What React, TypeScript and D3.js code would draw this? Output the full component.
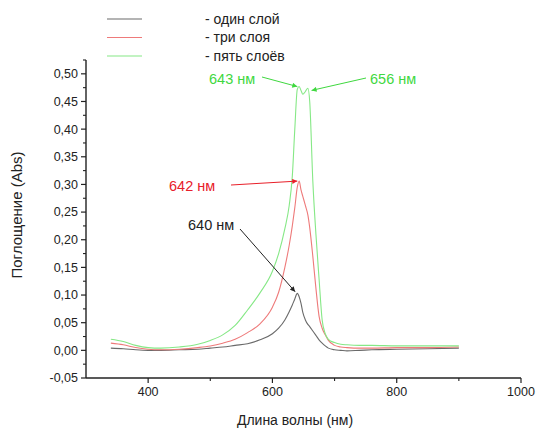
import React from "react";
import * as d3 from "d3";

const wavelengths = [340, 360, 380, 400, 420, 450, 480, 500, 520, 540, 560, 580, 600, 610, 620, 627, 632, 636, 640, 643, 646, 649, 653, 657, 660, 665, 670, 675, 680, 685, 690, 700, 710, 720, 740, 760, 800, 850, 900];

const oneLayer = [0.004, 0.003, 0.001, 0.0, 0.0, 0.001, 0.002, 0.004, 0.006, 0.009, 0.012, 0.019, 0.03, 0.04, 0.055, 0.07, 0.082, 0.093, 0.103, 0.097, 0.085, 0.068, 0.055, 0.047, 0.043, 0.035, 0.027, 0.019, 0.013, 0.008, 0.004, 0.001, 0.0, -0.001, 0.0, 0.001, 0.002, 0.003, 0.004];

const threeLayers = [0.013, 0.01, 0.005, 0.002, 0.001, 0.002, 0.005, 0.008, 0.013, 0.02, 0.032, 0.048, 0.078, 0.105, 0.15, 0.19, 0.225, 0.258, 0.295, 0.306, 0.29, 0.278, 0.262, 0.245, 0.222, 0.17, 0.112, 0.062, 0.04, 0.028, 0.018, 0.009, 0.006, 0.005, 0.004, 0.004, 0.005, 0.005, 0.006];

const fiveLayers = [0.02, 0.016, 0.009, 0.005, 0.004, 0.006, 0.011, 0.018, 0.028, 0.045, 0.073, 0.104, 0.143, 0.175, 0.22, 0.262, 0.315, 0.4, 0.472, 0.477, 0.47, 0.463, 0.468, 0.474, 0.45, 0.306, 0.21, 0.13, 0.055, 0.03, 0.02, 0.014, 0.011, 0.01, 0.009, 0.009, 0.008, 0.008, 0.008];

const seriesNames = ["- один слой", "- три слоя", "- пять слоёв"];
const seriesColors = ["#6a6a6a", "#ee7a7a", "#86e886"];

const xTicks = [400, 600, 800, 1000];
const xMinorTicks = [500, 700, 900];
const yTicks = [-0.05, 0, 0.05, 0.1, 0.15, 0.2, 0.25, 0.3, 0.35, 0.4, 0.45, 0.5];
const yMinorTicks = [-0.025, 0.025, 0.075, 0.125, 0.175, 0.225, 0.275, 0.325, 0.375, 0.425, 0.475, 0.525];

// annotations: label, tip (wavelength, value), text position and line start in px, color
const annotations = [
  { label: "643 нм", tipX: 640, tipY: 0.477, tx: 209, ty: 84, lx: 262, ly: 77, color: "#3fd83f" },
  { label: "656 нм", tipX: 663, tipY: 0.47, tx: 370, ty: 84, lx: 366, ly: 78, color: "#3fd83f" },
  { label: "642 нм", tipX: 640, tipY: 0.306, tx: 169, ty: 191, lx: 231, ly: 185, color: "#e8202a" },
  { label: "640 нм", tipX: 636.5, tipY: 0.106, tx: 188, ty: 230, lx: 240, ly: 229, color: "#222222" },
];

const W = 537;
const H = 430;
const font = "'Liberation Sans', Arial, sans-serif";

export default function App() {
  const x = d3.scaleLinear().domain([300, 1000]).range([86, 521]);
  const y = d3.scaleLinear().domain([-0.05, 0.525]).range([378, 60]);
  const x0 = x(300);
  const yBase = y(-0.05);

  const line = d3
    .line<number>()
    .x((_, i) => x(wavelengths[i]))
    .y((v) => y(v))
    .curve(d3.curveMonotoneX);

  const series = [oneLayer, threeLayers, fiveLayers];
  const fmt = (v: number) => (Math.abs(v) < 1e-9 ? "0,00" : d3.format(".2f")(v).replace(".", ",").replace("−", "-"));

  return (
    <svg width={W} height={H} style={{ position: "absolute", left: 0, top: 0, background: "#fff" }} fontFamily={font}>
      <defs>
        {annotations.map((a, i) => (
          <marker key={i} id={`arr${i}`} viewBox="0 0 10 10" refX="10" refY="5" markerWidth="7" markerHeight="5" orient="auto" markerUnits="userSpaceOnUse">
            <path d="M0,0 L10,5 L0,10 z" fill={a.color} />
          </marker>
        ))}
      </defs>

      {/* series */}
      {series.map((s, i) => (
        <path key={i} d={line(s) || ""} fill="none" stroke={seriesColors[i]} strokeWidth={1.1} />
      ))}

      {/* axes */}
      <line x1={x0} x2={x0} y1={y(0.525)} y2={yBase} stroke="#222" strokeWidth={1.4} />
      <line x1={x0} x2={x(1000)} y1={yBase} y2={yBase} stroke="#222" strokeWidth={1.4} />
      {yTicks.map((t) => (
        <g key={t}>
          <line x1={x0 - 5} x2={x0} y1={y(t)} y2={y(t)} stroke="#222" strokeWidth={1.2} />
          <text x={x0 - 8} y={y(t)} dy="0.35em" textAnchor="end" fontSize={12.5} fill="#222">
            {fmt(t)}
          </text>
        </g>
      ))}
      {yMinorTicks.map((t) => (
        <line key={t} x1={x0 - 3} x2={x0} y1={y(t)} y2={y(t)} stroke="#222" strokeWidth={1.1} />
      ))}
      {xTicks.map((t) => (
        <g key={t}>
          <line x1={x(t)} x2={x(t)} y1={yBase} y2={yBase + 5} stroke="#222" strokeWidth={1.2} />
          <text x={x(t)} y={yBase + 18} textAnchor="middle" fontSize={12.5} fill="#222">
            {t}
          </text>
        </g>
      ))}
      {xMinorTicks.map((t) => (
        <line key={t} x1={x(t)} x2={x(t)} y1={yBase} y2={yBase + 3} stroke="#222" strokeWidth={1.1} />
      ))}

      {/* axis titles */}
      <text x={295} y={425} textAnchor="middle" fontSize={14} fill="#222">
        Длина волны (нм)
      </text>
      <text transform={`translate(22,215) rotate(-90)`} textAnchor="middle" fontSize={15} fill="#222">
        Поглощение (Abs)
      </text>

      {/* legend */}
      {seriesNames.map((n, i) => (
        <g key={n}>
          <line x1={107} x2={142} y1={19 + i * 18.5} y2={19 + i * 18.5} stroke={seriesColors[i]} strokeWidth={1.1} />
          <text x={205} y={19 + i * 18.5} dy="0.35em" fontSize={14} fill="#222">
            {n}
          </text>
        </g>
      ))}

      {/* annotations */}
      {annotations.map((a, i) => (
        <g key={a.label}>
          <line x1={a.lx} y1={a.ly} x2={x(a.tipX)} y2={y(a.tipY)} stroke={a.color} strokeWidth={1} markerEnd={`url(#arr${i})`} />
          <text x={a.tx} y={a.ty} fontSize={14.5} fill={a.color}>
            {a.label}
          </text>
        </g>
      ))}
    </svg>
  );
}
